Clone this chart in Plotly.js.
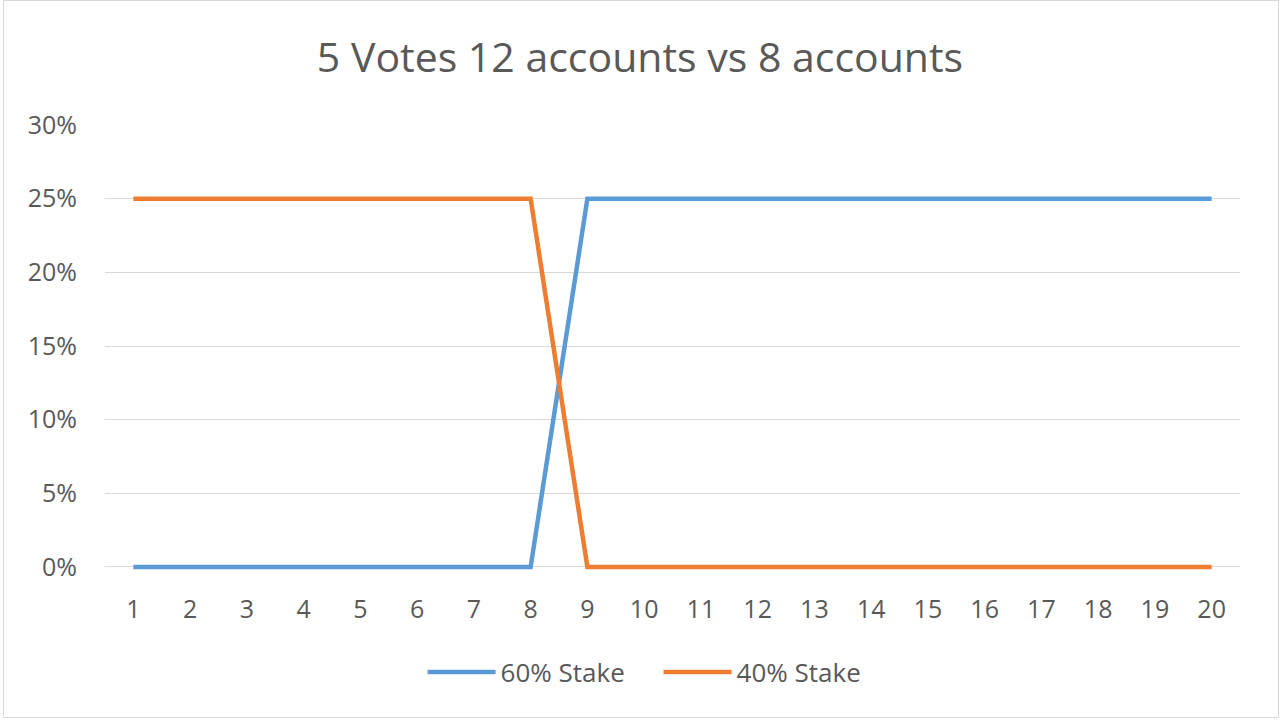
<!DOCTYPE html>
<html>
<head>
<meta charset="utf-8">
<script src="https://cdn.plot.ly/plotly-3.0.1.min.js"></script>
<style>
  html, body { margin: 0; padding: 0; background: #fff; }
  #wrap { position: relative; width: 1280px; height: 720px; }
  #chart { width: 1280px; height: 720px; }
  #frame { position: absolute; left: 3px; top: 0px; width: 1274px; height: 716px; border: 1px solid #D9D9D9; pointer-events: none; }
</style>
</head>
<body>
<div id="wrap">
  <div id="chart"></div>
  <div id="frame"></div>
</div>
<script>
const categories = ["1","2","3","4","5","6","7","8","9","10","11","12","13","14","15","16","17","18","19","20"];
const stake60 = [0,0,0,0,0,0,0,0,0.25,0.25,0.25,0.25,0.25,0.25,0.25,0.25,0.25,0.25,0.25,0.25];
const stake40 = [0.25,0.25,0.25,0.25,0.25,0.25,0.25,0.25,0,0,0,0,0,0,0,0,0,0,0,0];
const seriesNames = ["60% Stake", "40% Stake"];
const yTicks = [0, 0.05, 0.10, 0.15, 0.20, 0.25, 0.30];

const font = '"Open Sans", "Noto Sans", sans-serif';
const textColor = '#595959';

const traces = [
  { x: categories, y: stake60, name: seriesNames[0], type: 'scatter', mode: 'lines',
    line: { color: '#5B9BD5', width: 4.5 } },
  { x: categories, y: stake40, name: seriesNames[1], type: 'scatter', mode: 'lines',
    line: { color: '#ED7D31', width: 4.5 } }
];

const layout = {
  width: 1280, height: 720,
  margin: { l: 105, r: 40, t: 125, b: 150 },
  paper_bgcolor: '#fff', plot_bgcolor: '#fff',
  title: { text: '5 Votes 12 accounts vs 8 accounts', font: { family: font, size: 41, color: textColor },
           x: 0.5, xanchor: 'center', y: 1 - 58/720, yanchor: 'middle', yref: 'container' },
  xaxis: {
    type: 'category', range: [-0.5, 19.5], showgrid: false, zeroline: false,
    showline: false, ticks: 'outside', ticklen: 17, tickcolor: 'rgba(0,0,0,0)',
    tickfont: { family: font, size: 25, color: textColor }, fixedrange: true
  },
  yaxis: {
    range: [-0.00204, 0.3], tickvals: yTicks, tickformat: '.0%', showgrid: true,
    gridcolor: '#D9D9D9', gridwidth: 1, zeroline: false,
    showline: false, ticks: 'outside', ticklen: 22, tickcolor: 'rgba(0,0,0,0)',
    tickfont: { family: font, size: 25, color: textColor }, fixedrange: true
  },
  showlegend: true,
  legend: {
    orientation: 'h', x: 0.4877, xanchor: 'center', y: -102/445, yanchor: 'middle',
    font: { family: font, size: 26, color: textColor }, itemwidth: 68,
    entrywidth: 153, entrywidthmode: 'pixels', traceorder: 'normal'
  }
};

Plotly.newPlot('chart', traces, layout, { displayModeBar: false, staticPlot: true });
</script>
</body>
</html>
